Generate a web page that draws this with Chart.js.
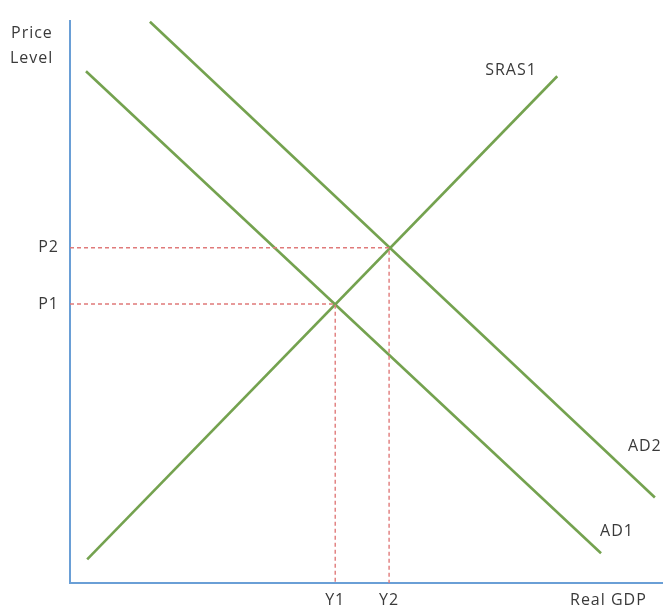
<!DOCTYPE html>
<html>
<head>
<meta charset="utf-8">
<script src="https://cdn.jsdelivr.net/npm/chart.js@4/dist/chart.umd.min.js"></script>
<style>
  html, body { margin: 0; padding: 0; background: #fff; }
  #wrap { width: 666px; height: 614px; position: relative; }
</style>
</head>
<body>
<div id="wrap"><canvas id="asChart"></canvas></div>
<script>
// --- Data (x = real GDP, y = price level, both on a 0-100 scale) ---
const ad1Points = [{ x: 2.7, y: 91.0 }, { x: 89.7, y: 5.3 }];
const ad2Points = [{ x: 13.5, y: 99.8 }, { x: 98.8, y: 15.2 }];
const srasPoints = [{ x: 2.9, y: 4.2 }, { x: 82.3, y: 90.1 }];

// equilibrium points
const yValues = [44.8, 53.9];
const pValues = [49.6, 59.6];
const xTickLabels = ['Y1', 'Y2'];
const yTickLabels = ['P1', 'P2'];

// curve names and where they sit
const curveLabels = ['SRAS1', 'AD2', 'AD1'];
const curveLabelX = [74.5, 97.1, 92.4];
const curveLabelY = [91.2, 24.2, 9.2];

const green = '#74a24f';
const blue = '#6a9fd6';
const dashRed = '#e07a7a';
const textColor = '#3a3a3a';
const fontFamily = "'Open Sans', sans-serif";

function dropLine(i) {
    return {
        data: [{ x: 0, y: pValues[i] }, { x: yValues[i], y: pValues[i] }, { x: yValues[i], y: 0 }],
        borderColor: dashRed,
        borderWidth: 1.4,
        borderDash: [4, 3],
        pointRadius: 0,
        showLine: true,
        fill: false
    };
}

function curve(points) {
    return {
        data: points,
        borderColor: green,
        borderWidth: 2.6,
        pointRadius: 0,
        showLine: true,
        fill: false
    };
}

// wider letters like the original
const spacingPlugin = {
    id: 'spacingPlugin',
    beforeDraw(chart) { chart.ctx.letterSpacing = '1px'; }
};

// --- text that is not a tick: axis names and curve names ---
const textPlugin = {
    id: 'textPlugin',
    afterDatasetsDraw(chart) {
        const ctx = chart.ctx;
        const xs = chart.scales.x, ys = chart.scales.y;
        ctx.save();
        ctx.letterSpacing = '1px';
        ctx.fillStyle = textColor;
        ctx.font = '16px ' + fontFamily;
        ctx.textBaseline = 'middle';
        ctx.textAlign = 'left';
        ctx.fillText('Price', 11, 33);
        ctx.fillText('Level', 10, 58);
        ctx.fillText('Real GDP', 570, 600);
        ctx.textAlign = 'center';
        curveLabels.forEach((t, i) => {
            ctx.fillText(t, xs.getPixelForValue(curveLabelX[i]), ys.getPixelForValue(curveLabelY[i]));
        });
        ctx.restore();
    }
};

const ctx = document.getElementById('asChart').getContext('2d');

new Chart(ctx, {
    type: 'scatter',
    data: {
        datasets: [
            dropLine(0),
            dropLine(1),
            curve(ad1Points),
            curve(ad2Points),
            curve(srasPoints)
        ]
    },
    options: {
        responsive: true,
        maintainAspectRatio: false,
        animation: false,
        layout: { padding: { left: 0, top: 16, right: 4, bottom: 0 } },
        plugins: {
            legend: { display: false },
            tooltip: { enabled: false }
        },
        scales: {
            x: {
                type: 'linear',
                min: 0,
                max: 100,
                grid: { display: false, drawTicks: false },
                border: { display: true, color: blue, width: 2 },
                afterBuildTicks: scale => { scale.ticks = yValues.map(v => ({ value: v })); },
                afterFit: scale => { scale.height = 31; },
                ticks: {
                    padding: 8,
                    color: textColor,
                    font: { family: fontFamily, size: 16 },
                    maxRotation: 0,
                    autoSkip: false,
                    callback: (v, i) => xTickLabels[i]
                }
            },
            y: {
                type: 'linear',
                min: 0,
                max: 100,
                grid: { display: false, drawTicks: false },
                border: { display: true, color: blue, width: 2 },
                afterBuildTicks: scale => { scale.ticks = pValues.map(v => ({ value: v })); },
                afterFit: scale => { scale.width = 70; },
                ticks: {
                    padding: 11,
                    color: textColor,
                    font: { family: fontFamily, size: 16 },
                    autoSkip: false,
                    callback: (v, i) => yTickLabels[i]
                }
            }
        }
    },
    plugins: [spacingPlugin, textPlugin]
});
</script>
</body>
</html>
